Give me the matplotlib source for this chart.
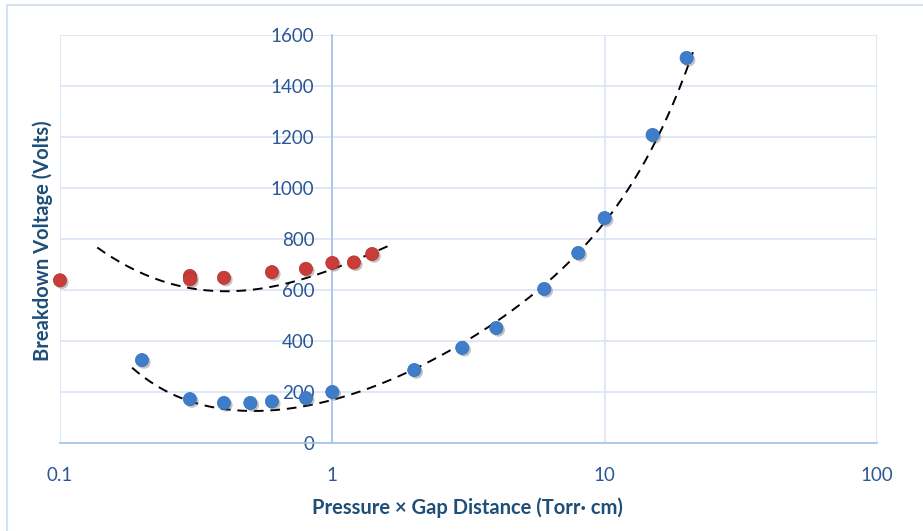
import numpy as np
import matplotlib
matplotlib.use("Agg")
import matplotlib.pyplot as plt
import matplotlib.patheffects as pe
from matplotlib.lines import Line2D

# 数据
blue_x = [0.2, 0.3, 0.4, 0.5, 0.6, 0.8, 1.0, 2, 3, 4, 6, 8, 10, 15, 20]
blue_y = [325, 172, 157, 157, 163, 176, 200, 286, 373, 451, 604, 745, 882, 1208, 1510]

red_x = [0.1, 0.3, 0.3, 0.4, 0.6, 0.8, 1.0, 1.2, 1.4]
red_y = [638, 655, 642, 648, 670, 683, 706, 708, 741]

# 趋势线上读出的点
blue_trend_x = [0.184, 0.228, 0.269, 0.327, 0.433, 0.544, 0.719, 0.96, 1.27, 1.68,
                2.05, 2.35, 3.30, 4.91, 6.89, 10.3, 12.8, 15.7, 19.0, 21.1]
blue_trend_y = [290, 235, 184, 141, 125, 125, 149, 169, 196, 247,
                290, 333, 424, 541, 678, 886, 1031, 1188, 1424, 1522]
red_trend_x = [0.137, 0.162, 0.197, 0.247, 0.293, 0.378, 0.459, 0.577, 0.719, 0.904, 1.164, 1.38, 1.61]
red_trend_y = [765, 718, 671, 627, 608, 596, 596, 612, 631, 667, 710, 737, 776]

xticks = [0.1, 1, 10, 100]
xtick_labels = ["0.1", "1", "10", "100"]
yticks = [0, 200, 400, 600, 800, 1000, 1200, 1400, 1600]

txt = "#1F4E79"
tick_c = "#2B5797"
grid_c = "#D9E4F2"
axis_c = "#A4C2E8"

plt.rcParams['font.family'] = ['Lato', 'DejaVu Sans']

fig = plt.figure(figsize=(9.23, 5.31), dpi=100)
ax = fig.add_axes([60/923, 88/531, 817/923, 408/531])

ax.set_xscale("log")
ax.set_xlim(0.1, 100)
ax.set_ylim(0, 1600)


def smooth(xs, ys, deg):
    lx = np.log10(xs)
    p = np.polyfit(lx, ys, deg)
    xx = np.linspace(lx[0], lx[-1], 200)
    return 10**xx, np.polyval(p, xx)


tx, ty = smooth(blue_trend_x, blue_trend_y, 6)
ax.plot(tx, ty, color="black", lw=1.4, dashes=(5, 3.5), zorder=3)
tx, ty = smooth(red_trend_x, red_trend_y, 4)
ax.plot(tx, ty, color="black", lw=1.4, dashes=(5, 3.5), zorder=3)

shadow = [pe.SimplePatchShadow(offset=(1.5, -1.5), shadow_rgbFace="#555555", alpha=0.35), pe.Normal()]
ax.plot(blue_x, blue_y, "o", ms=9.5, color="#3D7DCA", mec="#356FB8", mew=0.5,
        path_effects=shadow, zorder=4, clip_on=False)
ax.plot(red_x, red_y, "o", ms=9.5, color="#C93C37", mec="#B0302C", mew=0.5,
        path_effects=shadow, zorder=4, clip_on=False)

# 网格和坐标轴
ax.set_xticks(xticks)
ax.set_xticklabels(xtick_labels)
ax.xaxis.set_minor_locator(matplotlib.ticker.NullLocator())
ax.set_yticks(yticks)
ax.grid(True, color=grid_c, lw=1.2)
ax.set_axisbelow(True)

for s in ["top", "right"]:
    ax.spines[s].set_visible(False)
ax.spines["left"].set_position(("data", 1))
ax.spines["left"].set_color(axis_c)
ax.spines["left"].set_linewidth(1.2)
ax.spines["bottom"].set_color(axis_c)
ax.spines["bottom"].set_linewidth(1.2)

ax.tick_params(axis="both", length=0, labelsize=13.5, labelcolor=tick_c)
ax.tick_params(axis="y", pad=13)
ax.tick_params(axis="x", pad=17)

fig.text(467/923, 1 - 508/531, "Pressure × Gap Distance (Torr· cm)", fontsize=14.5,
         fontweight="bold", color=txt, ha="center", va="center")
fig.text(43/923, 1 - 241/531, "Breakdown Voltage (Volts)", rotation=90, fontsize=14.5,
         fontweight="bold", color=txt, ha="center", va="center")

# 图表边框
fig.add_artist(Line2D([7/923, 7/923], [0, 1 - 5/531], color="#D6E2F3", lw=1.5))
fig.add_artist(Line2D([7/923, 1], [1 - 5/531, 1 - 5/531], color="#D6E2F3", lw=1.5))

fig.savefig("out.png", dpi=100)
